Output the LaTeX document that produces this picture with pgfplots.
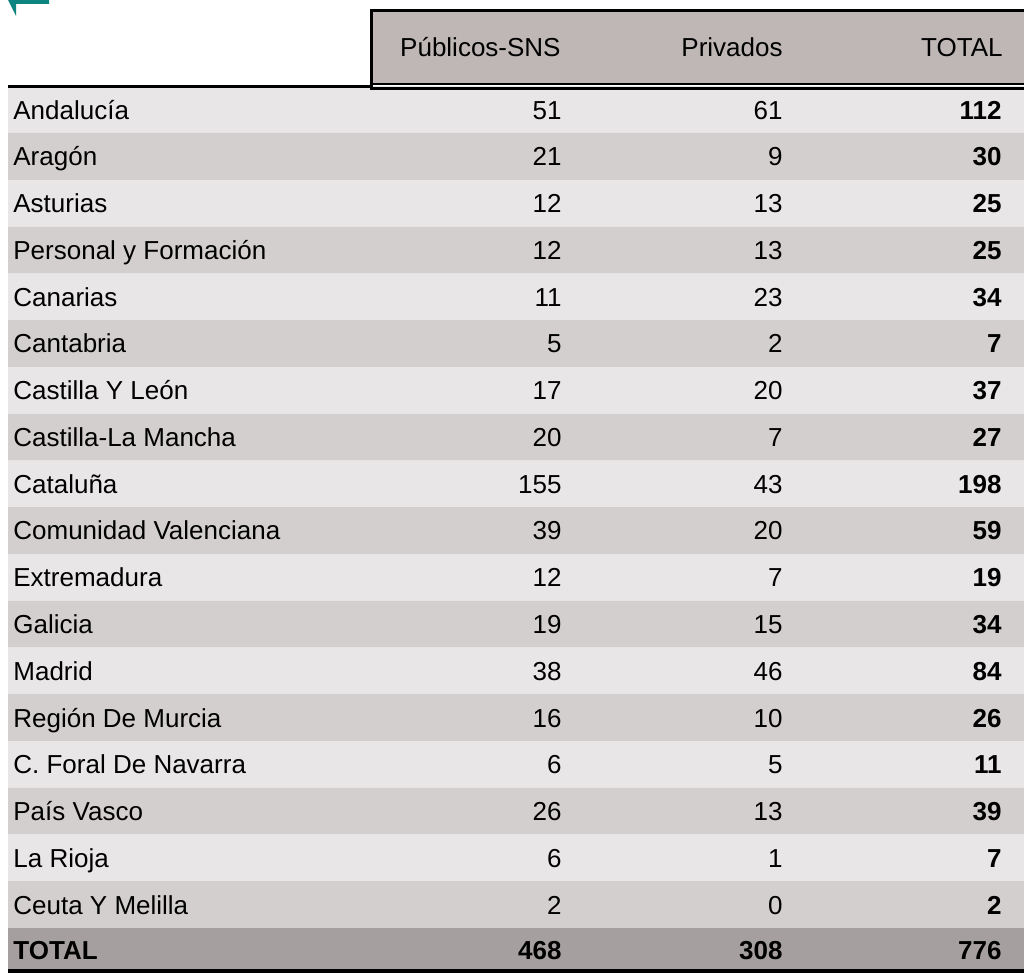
\documentclass[border=0pt]{standalone}
\usepackage{fontspec}
\setmainfont{Liberation Sans}
\usepackage{pgfplots}
\usepackage{pgfplotstable}
\pgfplotsset{compat=1.18}
\definecolor{rowlight}{HTML}{E8E6E7}
\definecolor{rowdark}{HTML}{D3CFCE}
\definecolor{rowtotal}{HTML}{A5A09F}
\definecolor{headfill}{HTML}{BFB6B6}
\definecolor{teal2}{HTML}{0E8580}
\pgfplotstableread[col sep=comma]{
name,pub,priv,tot,y
Andalucía,51,61,112,119.12
Aragón,21,9,30,165.88
Asturias,12,13,25,212.64
Personal y Formación,12,13,25,259.40
Canarias,11,23,34,306.16
Cantabria,5,2,7,352.92
Castilla Y León,17,20,37,399.68
Castilla-La Mancha,20,7,27,446.44
Cataluña,155,43,198,493.20
Comunidad Valenciana,39,20,59,539.96
Extremadura,12,7,19,586.72
Galicia,19,15,34,633.48
Madrid,38,46,84,680.24
Región De Murcia,16,10,26,727.00
C. Foral De Navarra,6,5,11,773.76
País Vasco,26,13,39,820.52
La Rioja,6,1,7,867.28
Ceuta Y Melilla,2,0,2,914.04
}\regions
\pgfplotstableread[col sep=comma]{
name,pub,priv,tot,y
TOTAL,468,308,776,959
}\totals
\begin{document}
\begin{tikzpicture}
\begin{axis}[
  width=512pt, height=486.5pt, scale only axis,
  xmin=-8, xmax=1016, ymin=0, ymax=973, y dir=reverse,
  hide axis, clip=false,
  every node near coord/.append style={inner sep=0pt, text=black, font=\fontsize{13}{15}\selectfont},
]
% row backgrounds
\addplot[xbar, bar width=46.76, bar shift=0pt, fill=rowlight, draw=none] coordinates {
(1016,109.62) (1016,203.14) (1016,296.66) (1016,390.18) (1016,483.70)
(1016,577.22) (1016,670.74) (1016,764.26) (1016,857.78)};
\addplot[xbar, bar width=46.76, bar shift=0pt, fill=rowdark, draw=none] coordinates {
(1016,156.38) (1016,249.90) (1016,343.42) (1016,436.94) (1016,530.46)
(1016,623.98) (1016,717.50) (1016,811.02) (1016,904.54)};
\addplot[xbar, bar width=41, bar shift=0pt, fill=rowtotal, draw=none] coordinates {(1016,948.5)};
% header box
\addplot[fill=headfill, draw=none] coordinates {(365,12) (1016,12) (1016,83) (365,83)};
\addplot[line width=1.5pt, black] coordinates {(362,10.5) (1016,10.5)};
\addplot[line width=1.5pt, black] coordinates {(363.5,9) (363.5,90)};
\addplot[line width=1pt, black] coordinates {(365,84) (1016,84)};
\addplot[line width=1.5pt, black] coordinates {(362,88.5) (1016,88.5)};
\addplot[line width=1.5pt, black] coordinates {(0,86.5) (362,86.5)};
\addplot[line width=2pt, black] coordinates {(0,971) (1016,971)};
% teal corner mark
\addplot[fill=teal2, draw=none] coordinates {(0,0) (41,0) (41,4) (8,4) (8,16)};
% header texts
\addplot[draw=none, mark=none, nodes near coords, point meta=explicit symbolic,
  every node near coord/.append style={anchor=base east}] coordinates {
  (553,57) [Públicos-SNS] (775,57) [Privados] (995,57) [TOTAL]};
% region names
\addplot[draw=none, mark=none, nodes near coords, point meta=explicit symbolic,
  every node near coord/.append style={anchor=base west}] table[x expr=5, y=y, meta=name] {\regions};
\addplot[draw=none, mark=none, nodes near coords, point meta=explicit symbolic,
  every node near coord/.append style={anchor=base east}] table[x expr=554, y=y, meta=pub] {\regions};
\addplot[draw=none, mark=none, nodes near coords, point meta=explicit symbolic,
  every node near coord/.append style={anchor=base east}] table[x expr=775, y=y, meta=priv] {\regions};
\addplot[draw=none, mark=none, nodes near coords, point meta=explicit symbolic,
  every node near coord/.append style={anchor=base east, font=\fontsize{13}{15}\selectfont\bfseries}] table[x expr=994, y=y, meta=tot] {\regions};
% total row
\addplot[draw=none, mark=none, nodes near coords, point meta=explicit symbolic,
  every node near coord/.append style={anchor=base west, font=\fontsize{13}{15}\selectfont\bfseries}] table[x expr=5, y=y, meta=name] {\totals};
\addplot[draw=none, mark=none, nodes near coords, point meta=explicit symbolic,
  every node near coord/.append style={anchor=base east, font=\fontsize{13}{15}\selectfont\bfseries}] table[x expr=554, y=y, meta=pub] {\totals};
\addplot[draw=none, mark=none, nodes near coords, point meta=explicit symbolic,
  every node near coord/.append style={anchor=base east, font=\fontsize{13}{15}\selectfont\bfseries}] table[x expr=775, y=y, meta=priv] {\totals};
\addplot[draw=none, mark=none, nodes near coords, point meta=explicit symbolic,
  every node near coord/.append style={anchor=base east, font=\fontsize{13}{15}\selectfont\bfseries}] table[x expr=994, y=y, meta=tot] {\totals};
\end{axis}
\pgfresetboundingbox
\path (current axis.south west) rectangle (current axis.north east);
\end{tikzpicture}
\end{document}
